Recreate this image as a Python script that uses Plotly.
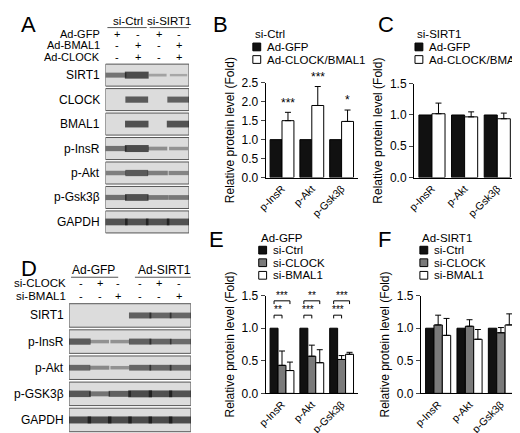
import plotly.graph_objects as go

W, H = 520, 433
FONT = "Liberation Sans, Arial, sans-serif"

# ---------------- data ----------------
markers = ["p-InsR", "p-Akt", "p-Gsk3β"]
B_gfp = [1.0, 1.0, 1.0]
B_cb = [1.50, 1.90, 1.48]
B_cb_err = [0.22, 0.50, 0.30]
B_stars = ["***", "***", "*"]
C_gfp = [1.0, 1.0, 1.0]
C_cb = [1.02, 0.97, 0.94]
C_cb_err = [0.17, 0.08, 0.09]
E_ctrl = [1.0, 1.0, 1.0]
E_clock = [0.43, 0.57, 0.52]
E_clock_err = [0.22, 0.17, 0.06]
E_bmal = [0.35, 0.47, 0.60]
E_bmal_err = [0.13, 0.20, 0.03]
E_star_clock = ["**", "***", "***"]
E_star_bmal = ["***", "**", "***"]
F_ctrl = [1.0, 1.0, 1.0]
F_clock = [1.05, 1.03, 0.93]
F_clock_err = [0.15, 0.10, 0.08]
F_bmal = [0.89, 0.83, 1.05]
F_bmal_err = [0.26, 0.15, 0.17]

A_rows = ["SIRT1", "CLOCK", "BMAL1", "p-InsR", "p-Akt", "p-Gsk3β", "GAPDH"]
A_bands = [[0.6, 1.0, 0.15, 0.08],
           [0, 0.85, 0, 0.8],
           [0, 0.95, 0, 0.95],
           [0.65, 1.0, 0.35, 0.3],
           [0.5, 0.85, 0.5, 0.45],
           [0.65, 0.95, 0.55, 0.55],
           [0.95, 0.95, 0.95, 0.95]]
A_hdr = [["Ad-GFP", ["+", "-", "+", "-"]],
         ["Ad-BMAL1", ["-", "+", "-", "+"]],
         ["Ad-CLOCK", ["-", "+", "-", "+"]]]
D_rows = ["SIRT1", "p-InsR", "p-Akt", "p-GSK3β", "GAPDH"]
D_bands = [[0, 0, 0, 0.8, 0.75, 0.75],
           [0.85, 0.3, 0.3, 0.8, 0.75, 0.7],
           [0.75, 0.4, 0.3, 0.75, 0.75, 0.75],
           [0.9, 0.6, 0.8, 1.0, 0.95, 0.95],
           [1.0, 1.0, 1.0, 1.0, 1.0, 1.0]]
D_hdr = [["si-CLOCK", ["-", "+", "-", "-", "+", "-"]],
         ["si-BMAL1", ["-", "-", "+", "-", "-", "+"]]]

fig = go.Figure()
ann, shp = [], []
px = lambda x: x / W
py = lambda y: 1 - y / H

def text(x, y, s, size=12, xa="center", color="black"):
    ann.append(dict(x=px(x), y=py(y), xref="paper", yref="paper", text=s, showarrow=False,
                    xanchor=xa, yanchor="middle", font=dict(family=FONT, size=size, color=color)))

# ---------------- blots ----------------
def blot(ax, rows, bands, x0, x1, ytop, ybot, labx):
    n = len(bands[0]); m = len(rows)
    xa, ya = "xaxis%d" % ax, "yaxis%d" % ax
    fig.update_layout(**{xa: dict(domain=[px(x0), px(x1)], range=[0.5, n + 0.5], visible=False, anchor="y%d" % ax),
                         ya: dict(domain=[py(ybot), py(ytop)], range=[m - 0.5, -0.5], visible=False, anchor="x%d" % ax)})
    rowh = (ybot - ytop) / m
    for i, r in enumerate(rows):
        shp.append(dict(type="rect", xref="x%d" % ax, yref="y%d" % ax, x0=0.5, x1=n + 0.5, y0=i - 0.45, y1=i + 0.45,
                        fillcolor="#dcdcdc", line=dict(color="#555", width=1), layer="below"))
        text(labx, ytop + rowh * (i + 0.5), r, 12, "right")
        xs = [j + 1 for j in range(n) if bands[i][j] > 0]
        vs = [bands[i][j] for j in range(n) if bands[i][j] > 0]
        fig.add_trace(go.Scatter(x=xs, y=[i] * len(xs), mode="markers", xaxis="x%d" % ax, yaxis="y%d" % ax,
                                 showlegend=False, hoverinfo="skip",
                                 marker=dict(symbol="line-ew", size=[12 + 5 * v for v in vs],
                                             line=dict(width=[2 + 5 * v for v in vs],
                                                       color=["rgba(15,15,15,%.2f)" % (0.3 + 0.7 * v) for v in vs]))))

blot(5, A_rows, A_bands, 90, 175, 49.5, 226.5, 86)
blot(6, D_rows, D_bands, 53, 177, 297, 432, 50)

laneA = [102, 123, 145, 165]
for k, (lab, sg) in enumerate(A_hdr):
    y = 20 + 11.5 * k
    text(86, y, lab, 11, "right")
    for x, s in zip(laneA, sg):
        text(x, y, s, 11)
text(113, 6, "si-Ctrl", 11.5); text(155, 6, "si-SIRT1", 11.5)
shp += [dict(type="line", xref="paper", yref="paper", x0=px(92), x1=px(132), y0=py(13), y1=py(13), line=dict(color="#555", width=1)),
        dict(type="line", xref="paper", yref="paper", x0=px(135), x1=px(175), y0=py(13), y1=py(13), line=dict(color="#555", width=1))]
laneD = [65, 84, 103, 125, 145, 165]
for k, (lab, sg) in enumerate(D_hdr):
    y = 277 + 13.5 * k
    text(52, y, lab, 11.5, "right")
    for x, s in zip(laneD, sg):
        text(x, y, s, 11)
text(78, 264, "Ad-GFP", 12); text(150, 264, "Ad-SIRT1", 12)
shp += [dict(type="line", xref="paper", yref="paper", x0=px(55), x1=px(103), y0=py(271), y1=py(271), line=dict(color="#555", width=1)),
        dict(type="line", xref="paper", yref="paper", x0=px(120), x1=px(177), y0=py(271), y1=py(271), line=dict(color="#555", width=1))]

# ---------------- bar charts ----------------
cols = {"k": "#111111", "g": "#7a7a7a", "w": "#ffffff"}
def barpanel(ax, x0, x1, ytop, ybot, ymax, series):
    ns = len(series); bw = 0.8 / ns
    for s, (vals, errs, c) in enumerate(series):
        xs = [i + (s - (ns - 1) / 2) * bw for i in range(3)]
        fig.add_trace(go.Bar(x=xs, y=vals, width=bw, xaxis="x%d" % ax, yaxis="y%d" % ax, showlegend=False,
                             marker=dict(color=cols[c], line=dict(color="black", width=1)),
                             error_y=dict(type="data", array=errs if errs else [0] * 3, arrayminus=[0] * 3,
                                          symmetric=False, visible=bool(errs), color="black", thickness=1, width=3)))
    fig.update_layout(**{
        "xaxis%d" % ax: dict(domain=[px(x0), px(x1)], range=[-0.55, 2.55], tickvals=[0, 1, 2], ticktext=markers,
                             tickangle=-45, showline=True, linecolor="black", ticks="", anchor="y%d" % ax,
                             tickfont=dict(family=FONT, size=10.5), showgrid=False, zeroline=False),
        "yaxis%d" % ax: dict(domain=[py(ybot), py(ytop)], range=[0, ymax], dtick=0.5, tickformat=".1f",
                             showline=True, linecolor="black", ticks="outside", ticklen=4, anchor="x%d" % ax,
                             tickfont=dict(family=FONT, size=12), showgrid=False, zeroline=False,
                             title=dict(text="Relative protein level (Fold)", font=dict(family=FONT, size=12), standoff=4))})
    return bw

bwB = barpanel(1, 253, 347, 70, 168, 2.5, [(B_gfp, None, "k"), (B_cb, B_cb_err, "w")])
barpanel(2, 404, 507, 71, 168, 1.5, [(C_gfp, None, "k"), (C_cb, C_cb_err, "w")])
bwE = barpanel(3, 253, 347, 290, 391, 1.5, [(E_ctrl, None, "k"), (E_clock, E_clock_err, "g"), (E_bmal, E_bmal_err, "w")])
barpanel(4, 411, 510, 290, 391, 1.5, [(F_ctrl, None, "k"), (F_clock, F_clock_err, "g"), (F_bmal, F_bmal_err, "w")])

for i in range(3):
    ann.append(dict(x=i + bwB / 2, y=B_cb[i] + B_cb_err[i] + 0.02, xref="x1", yref="y1", text=B_stars[i],
                    showarrow=False, yanchor="bottom", font=dict(family=FONT, size=12)))
    for (s2, lvl, st) in [(1, 1.2, E_star_clock[i]), (2, 1.42, E_star_bmal[i])]:
        xa_ = i - bwE; xb_ = i + (s2 - 1) * bwE
        shp.append(dict(type="path", xref="x3", yref="y3",
                        path="M %f %f L %f %f L %f %f L %f %f" % (xa_, lvl - 0.05, xa_, lvl, xb_, lvl, xb_, lvl - 0.05),
                        line=dict(color="black", width=1)))
        ann.append(dict(x=(xa_ + xb_) / 2, y=lvl - 0.03, xref="x3", yref="y3", text=st, showarrow=False,
                        yanchor="bottom", font=dict(family=FONT, size=10)))

# ---------------- legends & panel letters ----------------
def legend(x, ytitle, title, items):
    text(x, ytitle, title, 11.5, "left")
    for k, (lab, c) in enumerate(items):
        y = ytitle + 13 + 13 * k
        shp.append(dict(type="rect", xref="paper", yref="paper", x0=px(x), x1=px(x + 8), y0=py(y + 4), y1=py(y - 4),
                        fillcolor=cols[c], line=dict(color="black", width=1)))
        text(x + 12, y, lab, 11.5, "left")

legend(240, 20, "si-Ctrl", [("Ad-GFP", "k"), ("Ad-CLOCK/BMAL1", "w")])
legend(405, 20, "si-SIRT1", [("Ad-GFP", "k"), ("Ad-CLOCK/BMAL1", "w")])
legend(246, 230, "Ad-GFP", [("si-Ctrl", "k"), ("si-CLOCK", "g"), ("si-BMAL1", "w")])
legend(410, 230, "Ad-SIRT1", [("si-Ctrl", "k"), ("si-CLOCK", "g"), ("si-BMAL1", "w")])
for L, x, y in [("A", 12, 10), ("B", 207, 10), ("C", 376, 10), ("D", 12, 262), ("E", 203, 232), ("F", 374, 232)]:
    text(x, y, L, 22)

fig.update_layout(width=W, height=H, margin=dict(l=0, r=0, t=0, b=0), plot_bgcolor="white",
                  paper_bgcolor="white", annotations=ann, shapes=shp, barmode="overlay",
                  font=dict(family=FONT, color="black"))
fig.write_html("out.html")
